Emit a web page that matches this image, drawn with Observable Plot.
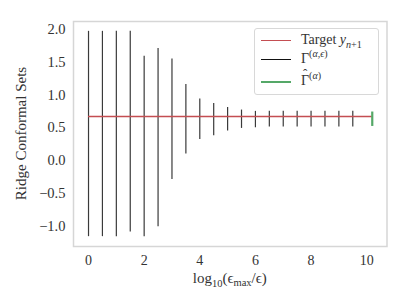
<!DOCTYPE html>
<html>
<head>
<meta charset="utf-8">
<script src="https://cdn.jsdelivr.net/npm/d3@7"></script>
<script src="https://cdn.jsdelivr.net/npm/@observablehq/plot@0.6"></script>
<style>
  body { margin: 0; background: white; }
  #wrap { position: relative; width: 407px; height: 305px; font-family: "Liberation Serif", serif; color: #333; }
  #wrap svg text { font-family: "Liberation Serif", serif !important; }
  #legend { position: absolute; left: 254px; top: 28px; width: 123px; height: 65px; border: 1px solid #d8d8d8; border-radius: 3px; background: white; font-size: 14px; }
  .row { position: absolute; left: 0; height: 18px; width: 122px; }
  .sw { position: absolute; left: 6px; width: 30px; top: 50%; }
  .lab { position: absolute; left: 46px; top: 0; line-height: 18px; white-space: nowrap; }
  sup, sub { font-size: 72%; line-height: 0; }
  i { font-style: italic; }
  .hat { position: relative; display: inline-block; }
  .hat::before { content: "\02C6"; position: absolute; left: 2px; top: -7px; font-size: 13px; }
</style>
</head>
<body>
<div id="wrap"></div>
<script>
// Data
const logEps = [0, 0.5, 1, 1.5, 2, 2.5, 3, 3.5, 4, 4.5, 5, 5.5, 6, 6.5, 7, 7.5, 8, 8.5, 9, 9.5];
const lowerBounds = [-1.16, -1.16, -1.16, -1.09, -1.16, -1.01, -0.29, 0.10, 0.32, 0.38, 0.45, 0.49, 0.50, 0.51, 0.51, 0.51, 0.51, 0.51, 0.51, 0.51];
const upperBounds = [1.97, 1.97, 1.97, 1.97, 1.59, 1.71, 1.55, 1.16, 0.94, 0.87, 0.81, 0.77, 0.75, 0.75, 0.75, 0.75, 0.75, 0.75, 0.75, 0.75];
const targetValue = [0.67];
const targetSpan = [0, 10.2];
const hatX = [10.2];
const hatLower = [0.52];
const hatUpper = [0.74];
const xTicks = [0, 2, 4, 6, 8, 10];
const yTicks = [-1.0, -0.5, 0.0, 0.5, 1.0, 1.5, 2.0];

const intervals = logEps.map((x, i) => ({x, lo: lowerBounds[i], hi: upperBounds[i]}));
const target = targetValue.map(y => ({y, x1: targetSpan[0], x2: targetSpan[1]}));
const hat = hatX.map((x, i) => ({x, lo: hatLower[i], hi: hatUpper[i]}));

const fmt = d => (d < 0 ? "\u2212" : "") + Math.abs(d).toFixed(1);
const serif = "Liberation Serif, serif";

const plot = Plot.plot({
  width: 407,
  height: 305,
  marginLeft: 73,
  marginRight: 20.5,
  marginTop: 21,
  marginBottom: 59,
  style: {fontFamily: serif, fontSize: "14px", color: "#333", background: "white", overflow: "visible"},
  x: {domain: [-0.54, 10.73]},
  y: {domain: [-1.31, 2.12]},
  marks: [
    Plot.frame({stroke: "#d6d6d6", strokeWidth: 1.5}),
    Plot.ruleX(intervals, {x: "x", y1: "lo", y2: "hi", stroke: "#3a3a3a", strokeWidth: 1.2}),
    Plot.ruleY(target, {y: "y", x1: "x1", x2: "x2", stroke: "#c44e52", strokeWidth: 1.5}),
    Plot.ruleX(hat, {x: "x", y1: "lo", y2: "hi", stroke: "#55a868", strokeWidth: 2.2}),
    Plot.axisX(xTicks, {tickSize: 0, tickPadding: 9, label: null, fill: "#333", fontSize: 14, fontFamily: serif}),
    Plot.axisY(yTicks, {tickSize: 0, tickPadding: 8, label: null, tickFormat: fmt, fill: "#333", fontSize: 14.5, fontFamily: serif})
  ]
});

document.getElementById("wrap").appendChild(plot);

// Axis labels with sub/superscripts
const svg = d3.select(plot);
const xs = plot.scale("x"), ys = plot.scale("y");
const cx = (xs.range[0] + xs.range[1]) / 2;
const cy = (ys.range[0] + ys.range[1]) / 2;

const xl = svg.append("text")
  .attr("x", cx).attr("y", 283)
  .attr("text-anchor", "middle")
  .attr("fill", "#333")
  .style("font-family", serif)
  .style("font-size", "15px");
xl.append("tspan").text("log");
xl.append("tspan").attr("dy", 4).style("font-size", "10.5px").text("10");
xl.append("tspan").attr("dy", -4).text("(\u03F5");
xl.append("tspan").attr("dy", 3).style("font-size", "10.5px").text("max");
xl.append("tspan").attr("dy", -3).text("/\u03F5)");

svg.append("text")
  .attr("transform", `translate(23,${cy}) rotate(-90)`)
  .attr("text-anchor", "middle")
  .attr("dominant-baseline", "middle")
  .attr("fill", "#333")
  .style("font-family", serif)
  .style("font-size", "15px")
  .text("Ridge Conformal Sets");

// Legend
const legend = document.createElement("div");
legend.id = "legend";
legend.innerHTML = `
  <div class="row" style="top:2px"><div class="sw" style="border-top:1.5px solid #c44e52"></div><div class="lab">Target <i>y</i><sub><i>n</i>+1</sub></div></div>
  <div class="row" style="top:21px"><div class="sw" style="border-top:1.5px solid #111"></div><div class="lab">\u0393<sup>(<i>\u03B1</i>,<i>\u03F5</i>)</sup></div></div>
  <div class="row" style="top:43px"><div class="sw" style="border-top:2px solid #55a868"></div><div class="lab"><span class="hat">\u0393</span><sup>(<i>\u03B1</i>)</sup></div></div>
`;
document.getElementById("wrap").appendChild(legend);
</script>
</body>
</html>
